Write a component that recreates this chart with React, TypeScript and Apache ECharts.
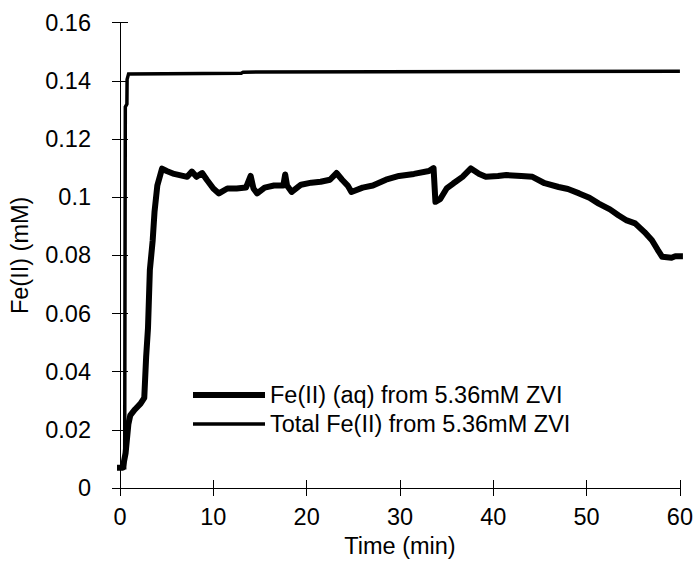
import React, { useEffect, useRef } from "react";
import * as echarts from "echarts";

const xTicks = [0, 10, 20, 30, 40, 50, 60];
const yTicks = [0, 0.02, 0.04, 0.06, 0.08, 0.1, 0.12, 0.14, 0.16];

const aqName = "Fe(II) (aq) from 5.36mM ZVI";
const totalName = "Total Fe(II) from 5.36mM ZVI";

const aqTime = [
  0, 0.3, 0.6, 0.9, 1.1, 1.6, 2.2, 2.6, 2.8, 3.0, 3.2, 3.5, 3.7, 4.0, 4.5, 5.0, 5.8, 6.5, 7.2, 7.7,
  8.2, 8.8, 9.3, 10.0, 10.6, 11.5, 12.5, 13.5, 14.0, 14.3, 14.7, 15.5, 16.5, 17.5, 17.7, 17.9, 18.4,
  19.4, 20.5, 21.5, 22.5, 23.2, 23.8, 24.4, 24.8, 26.0, 27.1, 28.5, 29.9, 31.5, 33.1, 33.6, 33.8,
  34.3, 35.0, 35.7, 36.7, 37.6, 38.5, 39.2, 40.5, 41.4, 43.0, 44.2, 45.5, 47.0, 48.0, 49.2, 50.3,
  51.3, 52.5, 53.4, 54.3, 55.2, 56.2, 57.0, 57.6, 58.1, 59.1, 59.5, 60,
];
const aqValue = [
  0.007, 0.007, 0.012, 0.022, 0.025, 0.027, 0.029, 0.031, 0.045, 0.055, 0.075, 0.085, 0.095, 0.104,
  0.1098, 0.109, 0.108, 0.1075, 0.107, 0.1088, 0.107, 0.1083, 0.106, 0.103, 0.1013, 0.103, 0.103,
  0.1033, 0.1073, 0.103, 0.1013, 0.1033, 0.104, 0.104, 0.1078, 0.104, 0.1018, 0.1043, 0.105, 0.1053,
  0.106, 0.1083, 0.106, 0.104, 0.1018, 0.1033, 0.104, 0.106, 0.1073, 0.108, 0.109, 0.11, 0.0984,
  0.0993, 0.103, 0.1047, 0.107, 0.1099, 0.108, 0.107, 0.1073, 0.1076, 0.1073, 0.107, 0.1048, 0.1035,
  0.1028, 0.1013, 0.0998, 0.0978, 0.0958, 0.0938, 0.092, 0.091, 0.088, 0.0852, 0.082, 0.0795, 0.0792,
  0.0797, 0.0797,
];

const totalTime = [0, 0.5, 0.57, 0.74, 0.76, 0.92, 13, 13.2, 60];
const totalValue = [0.007, 0.007, 0.131, 0.132, 0.1405, 0.1424, 0.1426, 0.143, 0.1433];

const FONT = "Liberation Sans, Arial, sans-serif";
const GRID_LEFT = 117;

export default function App() {
  const ref = useRef<HTMLDivElement>(null);
  useEffect(() => {
    if (!ref.current) return;
    const chart = echarts.init(ref.current, null, { renderer: "svg" });
    const aqData = aqTime.map((t, i) => [t, aqValue[i]]);
    const totalData = totalTime.map((t, i) => [t, totalValue[i]]);
    const yFmt = (v: number) => String(Math.round(v * 100) / 100);
    const thickIcon = "path://M0 0M72 14M0 4H72V10H0Z";
    const thinIcon = "path://M0 0M72 14M0 5.25H72V8.75H0Z";
    chart.setOption({
      animation: false,
      backgroundColor: "#ffffff",
      textStyle: { fontFamily: FONT, color: "#000" },
      grid: { left: GRID_LEFT, right: 13, top: 22.7, bottom: 80, containLabel: false },
      legend: {
        left: 193,
        top: 383,
        orient: "vertical",
        itemWidth: 72,
        itemHeight: 14,
        itemGap: 5,
        padding: 0,
        selectedMode: false,
        textStyle: { fontFamily: FONT, fontSize: 23.5, color: "#000", lineHeight: 24 },
        data: [
          { name: aqName, icon: thickIcon, itemStyle: { color: "#000" } },
          { name: totalName, icon: thinIcon, itemStyle: { color: "#000" } },
        ],
      },
      xAxis: [
        {
          type: "value",
          min: xTicks[0],
          max: xTicks[xTicks.length - 1],
          interval: 10,
          name: "Time (min)",
          nameLocation: "middle",
          nameGap: 46,
          nameTextStyle: { fontFamily: FONT, fontSize: 23.5, color: "#000" },
          axisLine: { show: true, lineStyle: { color: "#000", width: 1 } },
          axisTick: { show: true, inside: false, length: 8, lineStyle: { color: "#000" } },
          axisLabel: { fontFamily: FONT, fontSize: 23.5, color: "#000", margin: 17 },
          splitLine: { show: false },
        },
        {
          type: "value",
          position: "bottom",
          min: xTicks[0],
          max: xTicks[xTicks.length - 1],
          interval: 10,
          axisLine: { show: false },
          axisTick: { show: true, inside: true, length: 8, lineStyle: { color: "#000" } },
          axisLabel: { show: false },
          splitLine: { show: false },
        },
      ],
      yAxis: [
        {
          type: "value",
          min: yTicks[0],
          max: yTicks[yTicks.length - 1],
          interval: 0.02,
          name: "Fe(II) (mM)",
          nameLocation: "middle",
          nameGap: 88,
          nameTextStyle: { fontFamily: FONT, fontSize: 23.5, color: "#000" },
          axisLine: { show: true, lineStyle: { color: "#000", width: 1 } },
          axisTick: { show: true, inside: false, length: 8, lineStyle: { color: "#000" } },
          axisLabel: { fontFamily: FONT, fontSize: 23.5, color: "#000", margin: 29, formatter: yFmt },
          splitLine: { show: false },
        },
        {
          type: "value",
          position: "left",
          min: yTicks[0],
          max: yTicks[yTicks.length - 1],
          interval: 0.02,
          axisLine: { show: false },
          axisTick: { show: true, inside: true, length: 8, lineStyle: { color: "#000" } },
          axisLabel: { show: false },
          splitLine: { show: false },
        },
      ],
      series: [
        {
          name: aqName,
          type: "line",
          xAxisIndex: 0,
          yAxisIndex: 0,
          data: aqData,
          showSymbol: false,
          symbol: "none",
          lineStyle: { color: "#000", width: 6, join: "round", cap: "square" },
          itemStyle: { color: "#000" },
          z: 3,
        },
        {
          name: totalName,
          type: "line",
          xAxisIndex: 0,
          yAxisIndex: 0,
          data: totalData,
          showSymbol: false,
          symbol: "none",
          lineStyle: { color: "#000", width: 3.5, join: "miter" },
          itemStyle: { color: "#000" },
          z: 4,
        },
      ],
    });
    return () => chart.dispose();
  }, []);
  return (
    <div
      ref={ref}
      style={{ position: "fixed", left: 0, top: 0, width: 696, height: 568, background: "#fff" }}
    />
  );
}
